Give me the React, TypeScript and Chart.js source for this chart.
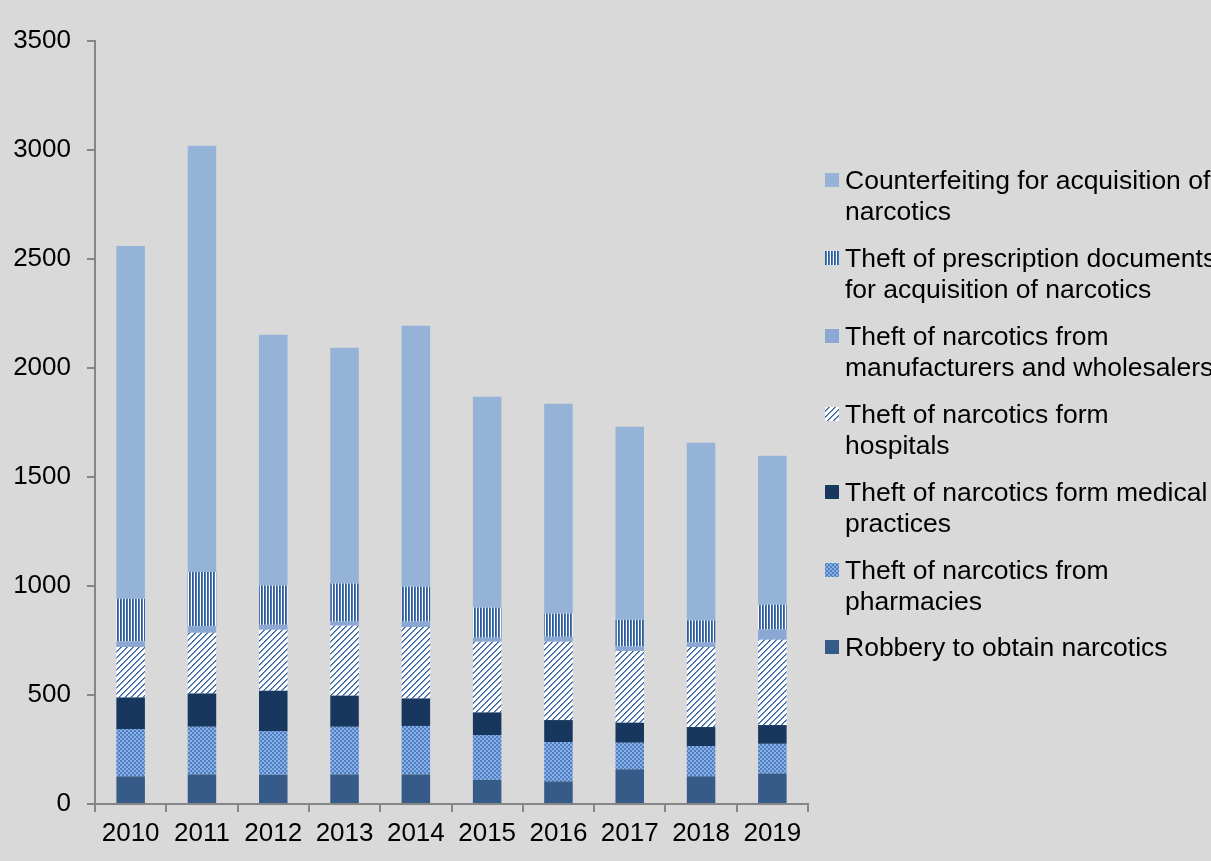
import React, { useEffect, useRef } from "react";
import { Chart, registerables } from "chart.js";

Chart.register(...registerables);

const years = ["2010", "2011", "2012", "2013", "2014", "2015", "2016", "2017", "2018", "2019"];
const yTicks = [0, 500, 1000, 1500, 2000, 2500, 3000, 3500];

const robbery = [127, 136, 134, 136, 136, 111, 104, 159, 127, 140];
const pharmacies = [217, 218, 201, 218, 222, 205, 180, 122, 139, 136];
const medicalPractices = [145, 153, 185, 143, 126, 104, 101, 92, 87, 86];
const hospitals = [231, 278, 279, 321, 328, 324, 359, 329, 367, 391];
const manufacturers = [26, 31, 23, 19, 25, 19, 23, 21, 21, 48];
const prescriptionDocs = [195, 248, 180, 175, 159, 138, 106, 122, 101, 113];
const counterfeiting = [1619, 1956, 1150, 1081, 1198, 967, 963, 885, 815, 684];

const seriesNames = [
  "Robbery to obtain narcotics",
  "Theft of narcotics from pharmacies",
  "Theft of narcotics form medical practices",
  "Theft of narcotics form hospitals",
  "Theft of narcotics from manufacturers and wholesalers",
  "Theft of prescription documents for acquisition of narcotics",
  "Counterfeiting for acquisition of narcotics",
];

// legend lines, top to bottom (reverse of stacking order)
const legendLines: string[][] = [
  ["Counterfeiting for acquisition of", "narcotics"],
  ["Theft of prescription documents", "for acquisition of narcotics"],
  ["Theft of narcotics from", "manufacturers and wholesalers"],
  ["Theft of narcotics form", "hospitals"],
  ["Theft of narcotics form medical", "practices"],
  ["Theft of narcotics from", "pharmacies"],
  ["Robbery to obtain narcotics"],
];

const FONT = "'Liberation Sans', Arial, sans-serif";

function makePattern(kind: string): CanvasPattern | string {
  const c = document.createElement("canvas");
  const g = c.getContext("2d")!;
  if (kind === "vstripe") {
    c.width = 3; c.height = 3;
    g.fillStyle = "#ffffff"; g.fillRect(0, 0, 3, 3);
    g.fillStyle = "#2c5c9b"; g.fillRect(0, 0, 1, 3);
    g.fillStyle = "#4f7ab3"; g.fillRect(1, 0, 1, 3);
  } else if (kind === "diag") {
    c.width = 6; c.height = 6;
    g.fillStyle = "#ffffff"; g.fillRect(0, 0, 6, 6);
    for (let i = 0; i < 6; i++) {
      const y = 5 - i;
      g.fillStyle = "#34619f";
      g.fillRect(i, y, 1, 1);
      g.fillStyle = "#6f93c6";
      g.fillRect((i + 1) % 6, y, 1, 1);
    }
  } else if (kind === "check") {
    c.width = 4; c.height = 4;
    g.fillStyle = "#8db0e2"; g.fillRect(0, 0, 4, 4);
    g.fillStyle = "#4d7fc6";
    g.fillRect(0, 0, 2, 2); g.fillRect(2, 2, 2, 2);
  }
  const p = g.createPattern(c, "repeat");
  return p || "#888";
}

export default function App() {
  const ref = useRef<HTMLCanvasElement | null>(null);

  useEffect(() => {
    document.body.style.margin = "0";
    document.body.style.background = "#d9d9d9";
    const canvas = ref.current!;
    const vstripe = makePattern("vstripe");
    const diag = makePattern("diag");
    const check = makePattern("check");

    const fills: (string | CanvasPattern)[] = [
      "#365b89",
      check,
      "#17375e",
      diag,
      "#8ba8d4",
      vstripe,
      "#95b3d7",
    ];
    const seriesData = [robbery, pharmacies, medicalPractices, hospitals, manufacturers, prescriptionDocs, counterfeiting];

    const bgPlugin = {
      id: "bg",
      beforeDraw(chart: any) {
        const ctx = chart.ctx;
        ctx.save();
        ctx.fillStyle = "#d9d9d9";
        ctx.fillRect(0, 0, chart.width, chart.height);
        ctx.restore();
      },
    };

    const legendPlugin = {
      id: "customLegend",
      afterDraw(chart: any) {
        const ctx = chart.ctx;
        ctx.save();
        ctx.font = `26.5px ${FONT}`;
        ctx.fillStyle = "#000000";
        ctx.textBaseline = "alphabetic";
        const startY = 180;
        const step = 78;
        legendLines.forEach((lines, i) => {
          const cy = startY + i * step - (i === 6 ? 1 : 0);
          const fill = fills[6 - i];
          ctx.fillStyle = fill;
          ctx.fillRect(825, cy - 7, 14, 14);
          ctx.fillStyle = "#000000";
          lines.forEach((t, j) => {
            ctx.fillText(t, 845, cy + 8.5 + j * 31);
          });
        });
        ctx.restore();
      },
    };

    const chart = new Chart(canvas, {
      type: "bar",
      data: {
        labels: years,
        datasets: seriesData.map((d, i) => ({
          label: seriesNames[i],
          data: d,
          backgroundColor: fills[i] as any,
          borderWidth: 0,
          barPercentage: 0.4,
          categoryPercentage: 1,
        })),
      },
      options: {
        responsive: false,
        animation: false,
        layout: { padding: { top: 41, right: 403, bottom: 0, left: 0 } },
        plugins: {
          legend: { display: false },
          tooltip: { enabled: false },
        },
        scales: {
          x: {
            stacked: true,
            afterFit(s: any) { s.height = 57; },
            grid: {
              offset: true,
              drawOnChartArea: false,
              drawTicks: true,
              tickLength: 8,
              color: "#868686",
              lineWidth: 2,
            },
            border: { color: "#868686", width: 2 },
            ticks: {
              color: "#000000",
              font: { family: FONT, size: 26 },
              padding: 6,
              maxRotation: 0,
            },
          },
          y: {
            stacked: true,
            min: 0,
            max: 3500,
            afterFit(s: any) { s.width = 95; },
            afterBuildTicks(s: any) { s.ticks = yTicks.map((v) => ({ value: v })); },
            grid: {
              drawOnChartArea: false,
              drawTicks: true,
              tickLength: 8,
              color: "#868686",
              lineWidth: 2,
            },
            border: { color: "#868686", width: 2 },
            ticks: {
              color: "#000000",
              font: { family: FONT, size: 26 },
              padding: 16,
              callback: (v: any) => String(v),
            },
          },
        },
      },
      plugins: [bgPlugin, legendPlugin],
    });

    return () => chart.destroy();
  }, []);

  return (
    <div style={{ width: 1211, height: 861, background: "#d9d9d9" }}>
      <canvas ref={ref} width={1211} height={861} />
    </div>
  );
}
